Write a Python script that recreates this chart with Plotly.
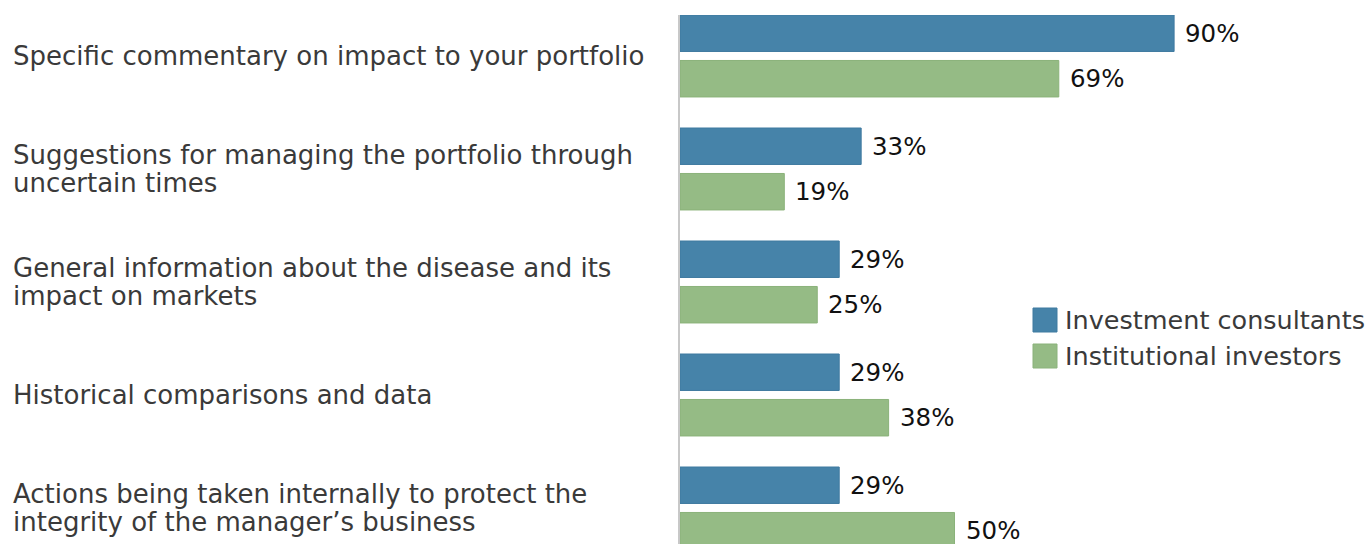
import plotly.graph_objects as go

categories = [
    "Specific commentary on impact to your portfolio",
    "Suggestions for managing the portfolio through uncertain times",
    "General information about the disease and its impact on markets",
    "Historical comparisons and data",
    "Actions being taken internally to protect the integrity of the manager’s business",
]
category_lines = [
    ["Specific commentary on impact to your portfolio"],
    ["Suggestions for managing the portfolio through", "uncertain times"],
    ["General information about the disease and its", "impact on markets"],
    ["Historical comparisons and data"],
    ["Actions being taken internally to protect the", "integrity of the manager’s business"],
]
series_names = ["Investment consultants", "Institutional investors"]
consultants = [90, 33, 29, 29, 29]
investors = [69, 19, 25, 38, 50]

colors = ["#4683a9", "#95bb85"]
edge_colors = ["#3f7aa0", "#8ab27a"]

W, H = 1370, 544
ML, MR, MT, MB = 680, 0, 15, 0
px_per_pct = 5.49
group_px = 113.0
bargap = 0.195
bargroupgap = 0.198

fig = go.Figure()
for name, vals, c, ec in zip(series_names, [consultants, investors], colors, edge_colors):
    fig.add_trace(go.Bar(
        y=categories, x=vals, name=name, orientation="h",
        marker=dict(color=c, line=dict(color=ec, width=1)),
        showlegend=False, hoverinfo="skip",
    ))

plot_w = W - ML - MR
plot_h = H - MT - MB
x_max = plot_w / px_per_pct
slot = (1 - bargap) / 2
y_top = -(slot - slot * bargroupgap / 2)
y_bottom = y_top + plot_h / group_px

annotations = []
font_family = "DejaVu Sans, Arial, sans-serif"
line_px = 28
# category labels, left aligned
for i, lines in enumerate(category_lines):
    n = len(lines)
    for k, ln in enumerate(lines):
        annotations.append(dict(
            x=(11 - ML) / plot_w, xref="paper", y=i, yref="y",
            yshift=-((k - (n - 1) / 2) * line_px),
            text=ln, showarrow=False, xanchor="left", yanchor="middle", align="left",
            font=dict(family=font_family, size=26, color="#3a3a3a"),
        ))
# value labels
offset = slot / 2
for s, vals in enumerate([consultants, investors]):
    for i, v in enumerate(vals):
        annotations.append(dict(
            x=v, xref="x", y=i + (-offset if s == 0 else offset), yref="y",
            text=f"{v}%", showarrow=False, xanchor="left", yanchor="middle",
            xshift=9,
            font=dict(family=font_family, size=24.5, color="#111111"),
        ))

# custom legend
shapes = []
leg_x0 = 1033
leg_rows = [320, 356]
for name, c, ec, yc in zip(series_names, colors, edge_colors, leg_rows):
    x0 = (leg_x0 - ML) / plot_w
    x1 = (leg_x0 + 24 - ML) / plot_w
    y0 = 1 - (yc + 12 - MT) / plot_h
    y1 = 1 - (yc - 12 - MT) / plot_h
    shapes.append(dict(type="rect", xref="paper", yref="paper", x0=x0, x1=x1, y0=y0, y1=y1,
                       fillcolor=c, line=dict(color=ec, width=1)))
    annotations.append(dict(
        x=(1063 - ML) / plot_w, xref="paper", y=1 - (yc - MT) / plot_h, yref="paper",
        text=name, showarrow=False, xanchor="left", yanchor="middle",
        font=dict(family=font_family, size=25.5, color="#3a3a3a"),
    ))

fig.update_layout(
    width=W, height=H,
    margin=dict(l=ML, r=MR, t=MT, b=MB, pad=0),
    paper_bgcolor="white", plot_bgcolor="white",
    barmode="group", bargap=bargap, bargroupgap=bargroupgap,
    xaxis=dict(range=[0, x_max], showgrid=False, zeroline=False, showticklabels=False, showline=False),
    yaxis=dict(type="category", categoryarray=categories, categoryorder="array",
               range=[y_bottom, y_top], showgrid=False, zeroline=False,
               showticklabels=False, showline=True, linecolor="#c8c8c8", linewidth=1.5, ticks=""),
    annotations=annotations, shapes=shapes,
    showlegend=False,
)

fig.write_html("out.html", config={"displayModeBar": False},
               post_script="document.body.style.margin='0';")
